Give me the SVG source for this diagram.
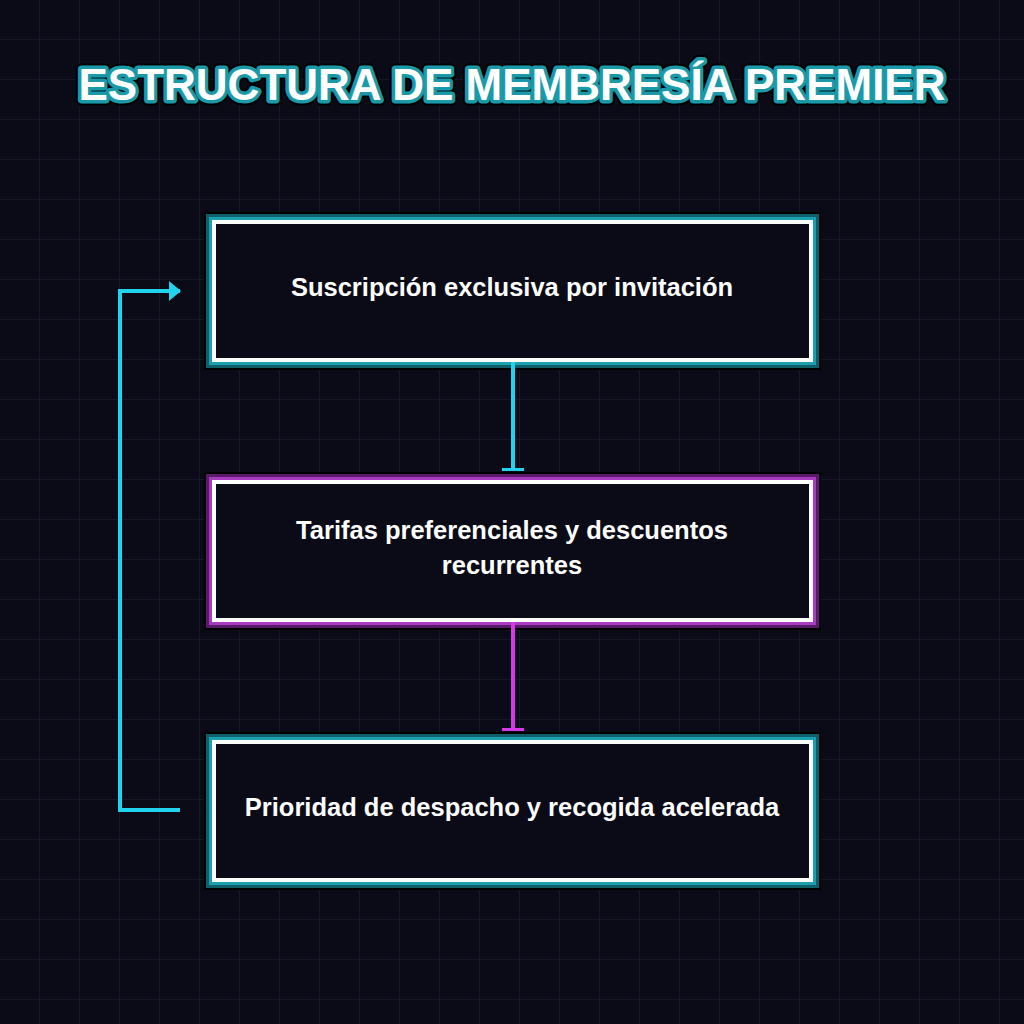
<svg xmlns="http://www.w3.org/2000/svg" width="1024" height="1024" viewBox="0 0 1024 1024">
<defs>
<pattern id="grid" width="40" height="40" patternUnits="userSpaceOnUse">
<path d="M40 0V40M0 40H40" fill="none" stroke="#1a1a30" stroke-width="1.5"/>
</pattern>
<marker id="arrC" markerWidth="12" markerHeight="20" refX="11" refY="10" orient="auto" markerUnits="userSpaceOnUse">
<path d="M0 0L12 10L0 20Z" fill="#22d3ee"/>
</marker>
<marker id="tC" markerWidth="4" markerHeight="22" refX="2" refY="11" orient="auto" markerUnits="userSpaceOnUse">
<rect x="0" y="0" width="3" height="22" fill="#22d3ee"/>
</marker>
<marker id="tM" markerWidth="4" markerHeight="22" refX="2" refY="11" orient="auto" markerUnits="userSpaceOnUse">
<rect x="0" y="0" width="3" height="22" fill="#d63ae8"/>
</marker>
</defs>
<style>
.title{font-family:"Liberation Sans",Arial,sans-serif;font-weight:bold;font-size:44px;text-anchor:middle}
.lbl{font-family:"Liberation Sans",Arial,sans-serif;font-weight:bold;font-size:25.5px;fill:#ffffff;text-anchor:middle}
.g0{fill:none;stroke:#000000;stroke-width:20}
.gc1{fill:none;stroke:#0e5f68;stroke-width:16}
.gc2{fill:none;stroke:#1aa0b0;stroke-width:10}
.gm1{fill:none;stroke:#5a1a6a;stroke-width:16}
.gm2{fill:none;stroke:#a83cc0;stroke-width:10}
.inner{fill:#0b0b18;stroke:#ffffff;stroke-width:4}
.cc{fill:none;stroke:#22d3ee;stroke-width:4}
.cm{fill:none;stroke:#d63ae8;stroke-width:4}
</style>
<rect width="1024" height="1024" fill="#0b0b18"/>
<rect width="1024" height="1024" fill="url(#grid)"/>
<g id="title">
<text class="title" x="512" y="100" fill="none" stroke="#000000" stroke-width="11" stroke-linejoin="round">ESTRUCTURA DE MEMBRESÍA PREMIER</text>
<text class="title" x="512" y="100" fill="none" stroke="#1a9aa8" stroke-width="7" stroke-linejoin="round">ESTRUCTURA DE MEMBRESÍA PREMIER</text>
<text class="title" x="512" y="100" fill="#ffffff">ESTRUCTURA DE MEMBRESÍA PREMIER</text>
</g>
<g id="node1">
<rect class="g0" x="214" y="222" width="597" height="138"/>
<rect class="gc1" x="214" y="222" width="597" height="138"/>
<rect class="gc2" x="214" y="222" width="597" height="138"/>
<rect class="inner" x="214" y="222" width="597" height="138"/>
<text class="lbl" x="512" y="296">Suscripción exclusiva por invitación</text>
</g>
<g id="node2">
<rect class="g0" x="214" y="482" width="597" height="138"/>
<rect class="gm1" x="214" y="482" width="597" height="138"/>
<rect class="gm2" x="214" y="482" width="597" height="138"/>
<rect class="inner" x="214" y="482" width="597" height="138"/>
<text class="lbl" x="512" y="539">Tarifas preferenciales y descuentos</text>
<text class="lbl" x="512" y="574">recurrentes</text>
</g>
<g id="node3">
<rect class="g0" x="214" y="742" width="597" height="138"/>
<rect class="gc1" x="214" y="742" width="597" height="138"/>
<rect class="gc2" x="214" y="742" width="597" height="138"/>
<rect class="inner" x="214" y="742" width="597" height="138"/>
<text class="lbl" x="512" y="816">Prioridad de despacho y recogida acelerada</text>
</g>
<g id="connectors">
<path class="cc" d="M513 362V470" marker-end="url(#tC)"/>
<path class="cm" d="M513 622V730" marker-end="url(#tM)"/>
<path class="cc" d="M180 810H120V291H180" marker-end="url(#arrC)"/>
</g>
</svg>
